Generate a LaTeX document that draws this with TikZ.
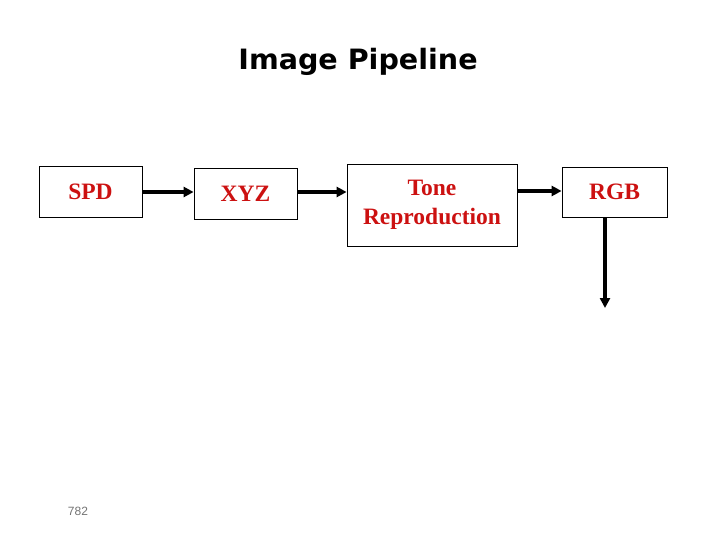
\documentclass[tikz,border=0pt]{standalone}
\usepackage{fontspec}
\setmainfont{Liberation Serif}
\newfontfamily\titlefont{DejaVu Sans}
\newfontfamily\numfont{Liberation Sans}
\usetikzlibrary{arrows.meta}
\definecolor{boxred}{HTML}{CC1111}
\tikzset{
  stagebox/.style={draw=black, line width=0.8pt, font=\fontsize{23.5}{28.5}\selectfont\bfseries, text=boxred, inner sep=0pt, align=center},
  flow/.style={line width=3.5pt, -{Triangle[length=10pt,width=10pt]}}
}
\begin{document}
\begin{tikzpicture}[x=1pt,y=-1pt]
\useasboundingbox (0,0) rectangle (720,540);
\node[font=\titlefont\bfseries\fontsize{28}{32}\selectfont, xscale=1.02] (title) at (358,62) {Image Pipeline};
\node[stagebox, minimum width=103pt, minimum height=51pt] (spd) at (90.5,191.5) {SPD};
\node[stagebox, minimum width=103pt, minimum height=51pt] (xyz) at (245.5,193.5) {XYZ};
\node[stagebox, minimum width=170pt, minimum height=82pt] (tone) at (432,205) {Tone\\Reproduction};
\node[stagebox, minimum width=105pt, minimum height=50pt] (rgb) at (614.5,192) {RGB};
\coordinate (out) at (605,308);
\draw[flow] (spd.east |- 0,192) -- (xyz.west |- 0,192);
\draw[flow] (xyz.east |- 0,192) -- (tone.west |- 0,192);
\draw[flow] (tone.east |- 0,191) -- (rgb.west |- 0,191);
\draw[flow] (rgb.south -| out) -- (out);
\node[font=\numfont\fontsize{12}{14}\selectfont, text=black!55] (page) at (78,511) {782};
\end{tikzpicture}
\end{document}
